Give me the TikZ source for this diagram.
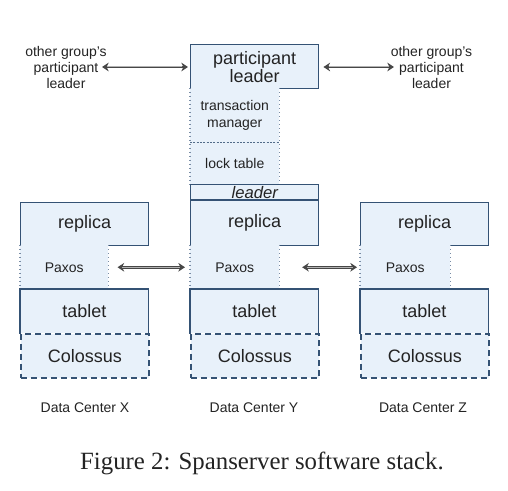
\documentclass[tikz,border=0pt]{standalone}
\usepackage{fontspec}
\setmainfont{Liberation Sans}
\newfontfamily\capfont{Liberation Serif}
\usetikzlibrary{arrows.meta}
\definecolor{bordc}{RGB}{52,82,116}
\definecolor{fillc}{RGB}{232,241,250}
\definecolor{dotc}{RGB}{120,140,165}
\definecolor{textc}{RGB}{35,35,35}
\tikzset{
  big/.style={font=\fontsize{13.5}{13.5}\selectfont},
  small/.style={font=\fontsize{10.5}{12.5}\selectfont},
  box/.style={draw=bordc, line width=1.1pt, fill=fillc, inner sep=0pt, anchor=north west, text=textc, align=center, minimum width=96pt},
  fillbox/.style={fill=fillc, inner sep=0pt, anchor=north west, text=textc, align=center},
  dotside/.style={draw=dotc, line width=1pt, dotted},
  solidline/.style={draw=bordc, line width=1.1pt},
  dashbox/.style={draw=bordc, line width=1.25pt, dash pattern=on 4.5pt off 3pt, fill=fillc, inner sep=0pt, anchor=north west, text=textc, minimum width=96pt},
  lbl/.style={text=textc, align=center, inner sep=0pt},
  arrdark/.style={draw=black!72, line width=2.2pt, {Stealth[length=5pt,width=6.5pt]}-{Stealth[length=5pt,width=6.5pt]}},
  arrlight/.style={draw=black!30, line width=0.75pt}
}
\begin{document}
\begin{tikzpicture}[x=0.75pt,y=-0.75pt]
\useasboundingbox (0,0) rectangle (508,491);
% ---------- Data Center X ----------
\node[box, big, minimum height=32.25pt] (xrep) at (20,202) {replica};
\node[fillbox, small, minimum width=66pt, minimum height=33pt] (xpax) at (20,245) {Paxos};
\draw[dotside] (xpax.north west) -- (xpax.south west) (xpax.north east) -- (xpax.south east);
\node[dashbox, big, minimum height=33pt] (xcol) at (20,333) {Colossus};
\node[fillbox, big, minimum width=96pt, minimum height=33pt] (xtab) at (20,289) {tablet};
\draw[solidline] (xtab.south west) -- (xtab.north west) -- (xtab.north east) -- (xtab.south east);
% ---------- Data Center Y ----------
\node[box, big, minimum height=33pt] (pl) at (190,44) {participant\\leader};
\node[fillbox, small, minimum width=66.75pt, minimum height=40.5pt] (tm) at (190,88) {transaction\\manager};
\node[fillbox, small, minimum width=66.75pt, minimum height=31.5pt] (lt) at (190,142) {lock table};
\draw[dotside] (tm.north west) -- (lt.south west) (tm.north east) -- (lt.south east);
\draw[draw=bordc!85, line width=1pt, dash pattern=on 1.5pt off 1pt] (tm.south west) -- (tm.south east);
\node[box, minimum height=12pt, font=\fontsize{12.5}{12.5}\selectfont\itshape] (ld) at (190,184) {leader};
\node[box, big, minimum height=33.75pt] (yrep) at (190,200) {replica};
\draw[draw=bordc, line width=2pt] (yrep.north west) -- (yrep.north east);
\node[fillbox, small, minimum width=66.75pt, minimum height=33pt] (ypax) at (190,245) {Paxos};
\draw[dotside] (ypax.north west) -- (ypax.south west) (ypax.north east) -- (ypax.south east);
\node[dashbox, big, minimum height=33pt] (ycol) at (190,333) {Colossus};
\node[fillbox, big, minimum width=96pt, minimum height=33pt] (ytab) at (190,289) {tablet};
\draw[solidline] (ytab.south west) -- (ytab.north west) -- (ytab.north east) -- (ytab.south east);
% ---------- Data Center Z ----------
\node[box, big, minimum height=32.25pt] (zrep) at (360,202) {replica};
\node[fillbox, small, minimum width=67.5pt, minimum height=33pt] (zpax) at (360,245) {Paxos};
\draw[dotside] (zpax.north west) -- (zpax.south west) (zpax.north east) -- (zpax.south east);
\node[dashbox, big, minimum height=33pt] (zcol) at (360,333) {Colossus};
\node[fillbox, big, minimum width=96pt, minimum height=33pt] (ztab) at (360,289) {tablet};
\draw[solidline] (ztab.south west) -- (ztab.north west) -- (ztab.north east) -- (ztab.south east);
% ---------- side labels ----------
\node[lbl, small, font=\fontsize{10.5}{11.8}\selectfont] (ogl) at (66,67.5) {other group's\\participant\\leader};
\node[lbl, small, font=\fontsize{10.5}{11.8}\selectfont] (ogr) at (431.5,67.5) {other group's\\participant\\leader};
\coordinate (ogla) at (102,67);
\coordinate (ogra) at (394,67);
% ---------- arrows ----------
\draw[arrdark, shorten >=1.5pt] (ogla) -- (pl.west |- ogla);
\draw[arrlight, shorten <=4pt, shorten >=6pt] (ogla) -- (pl.west |- ogla);
\draw[arrdark, shorten <=3pt] (pl.east |- ogra) -- (ogra);
\draw[arrlight, shorten <=7pt, shorten >=4pt] (pl.east |- ogra) -- (ogra);
\draw[arrdark, shorten <=6.75pt, shorten >=3.75pt] (xpax.east) -- (ypax.west);
\draw[arrlight, shorten <=10pt, shorten >=7.5pt] (xpax.east) -- (ypax.west);
\draw[arrdark, shorten <=17pt, shorten >=2.25pt] (ypax.east) -- (zpax.west);
\draw[arrlight, shorten <=20.5pt, shorten >=5.5pt] (ypax.east) -- (zpax.west);
% ---------- data center labels ----------
\node[lbl, small] (dcx) at (85,408) {Data Center X};
\node[lbl, small] (dcy) at (254,408) {Data Center Y};
\node[lbl, small] (dcz) at (423,408) {Data Center Z};
% ---------- caption ----------
\node[lbl, font=\capfont\fontsize{18.6}{20}\selectfont] (cap) at (262,463) {Figure 2: Spanserver software stack.};
\end{tikzpicture}
\end{document}
